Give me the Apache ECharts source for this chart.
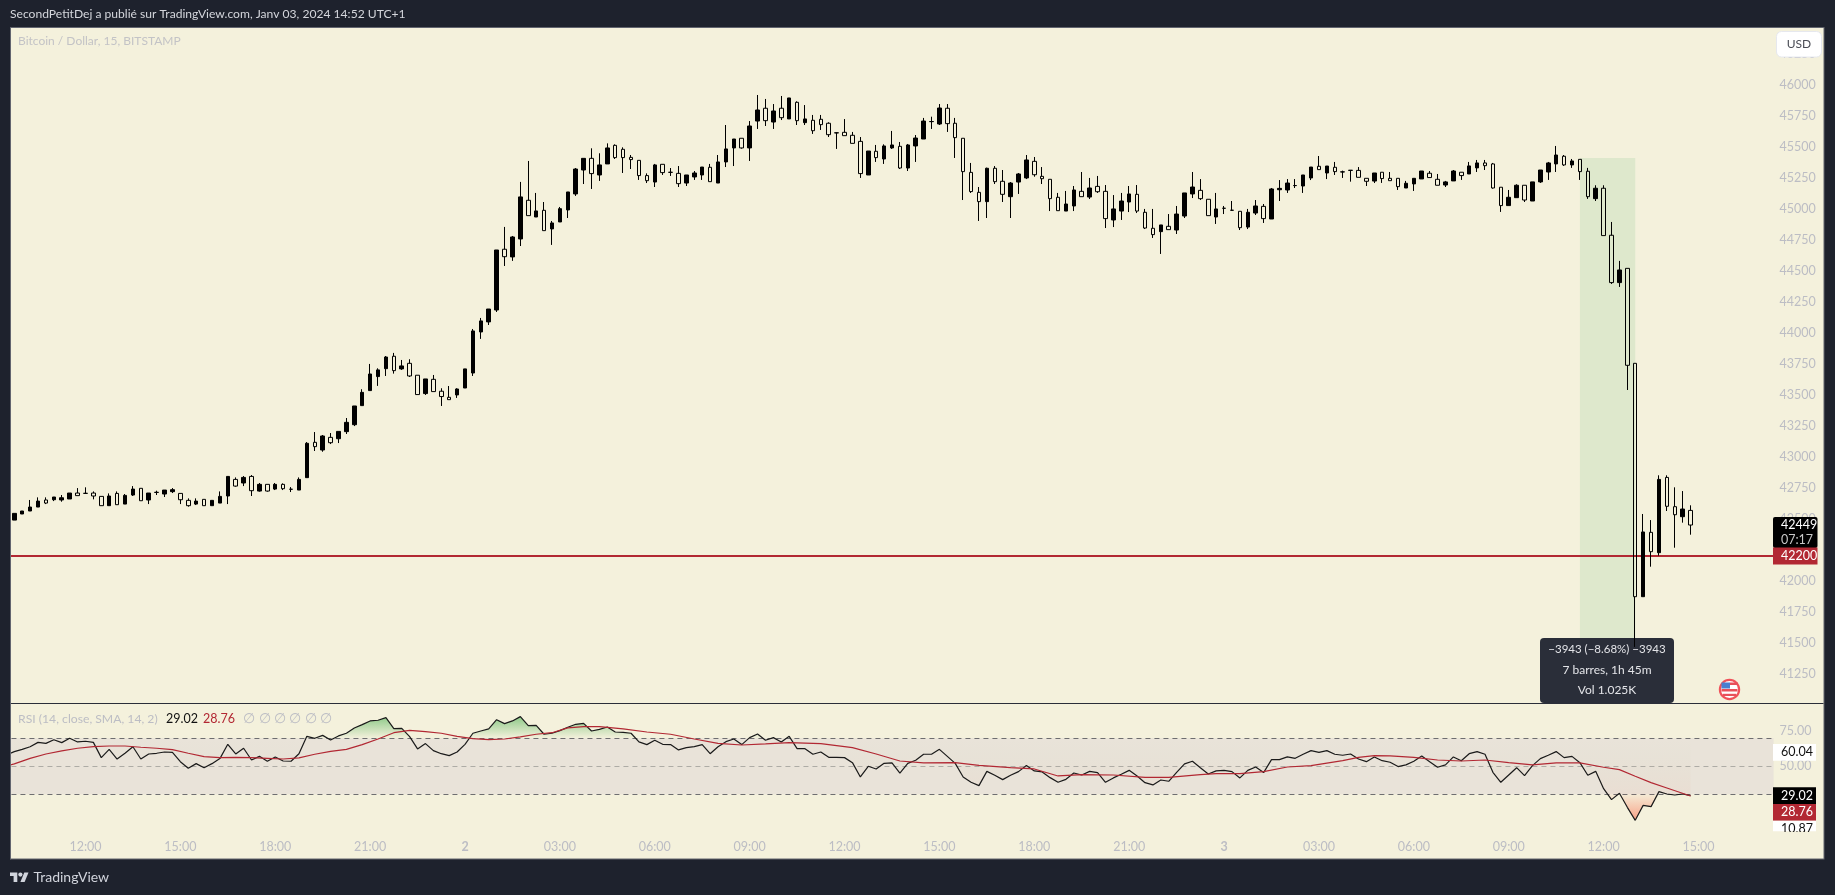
<!DOCTYPE html>
<html>
<head>
<meta charset="utf-8">
<title>Bitcoin / Dollar</title>
<script src="https://cdn.jsdelivr.net/npm/echarts@6/dist/echarts.min.js"></script>
<style>
  html, body { margin: 0; padding: 0; background: #1e222d; }
  #chart { width: 1835px; height: 895px; }
</style>
</head>
<body>
<div id="chart"></div>
<script>
// candles, 15 minute bars from 1 Jan 09:45 to 3 Jan 14:45
const opens = [
  42489,42538,42562,42594,42651,42653,42651,42659,42707,42705,
  42707,42680,42605,42704,42618,42691,42745,42651,42712,42699,
  42718,42704,42648,42618,42656,42605,42626,42683,42817,42788,
  42841,42723,42777,42739,42777,42737,42731,42831,43116,43054,
  43156,43145,43202,43258,43412,43533,43646,43710,43810,43708,
  43753,43657,43509,43624,43528,43479,43498,43554,43675,44006,
  44087,44183,44673,44611,44756,45068,44933,44987,44837,44893,
  44990,45119,45312,45406,45272,45361,45511,45479,45414,45390,
  45267,45215,45358,45293,45285,45207,45256,45272,45334,45207,
  45377,45490,45568,45490,45707,45810,45699,45810,45724,45858,
  45694,45713,45721,45689,45611,45616,45592,45543,45272,45463,
  45401,45490,45503,45328,45506,45562,45702,45683,45810,45689,
  45568,45293,45132,45057,45326,45221,45097,45215,45248,45382,
  45261,45237,45092,44981,45022,45140,45094,45180,45140,44909,
  44981,45054,45116,44971,44842,44815,44858,44828,44941,45119,
  45148,45076,44933,45003,44987,44979,44852,44965,45019,44917,
  45153,45151,45186,45183,45248,45342,45288,45334,45296,45309,
  45309,45245,45223,45294,45245,45245,45167,45200,45240,45286,
  45237,45191,45224,45294,45280,45329,45369,45361,45173,45025,
  45089,45189,45062,45216,45296,45361,45423,45353,45398,45302,
  45081,45165,44786,44404,44519,43753,41871,42390,42226,42833,
  42597,42516,42567
];
const closes = [
  42543,42562,42594,42642,42626,42675,42669,42707,42686,42704,
  42683,42605,42683,42613,42688,42739,42645,42707,42713,42731,
  42734,42653,42605,42642,42605,42648,42680,42841,42763,42833,
  42726,42777,42723,42777,42742,42738,42817,43108,43081,43167,
  43113,43204,43277,43409,43519,43667,43700,43804,43694,43732,
  43651,43501,43627,43525,43485,43460,43546,43708,44014,44095,
  44191,44667,44613,44772,45095,44944,44982,44823,44885,45000,
  45135,45320,45406,45283,45353,45490,45412,45412,45396,45267,
  45226,45353,45291,45294,45202,45272,45288,45336,45218,45377,
  45482,45562,45490,45667,45796,45710,45788,45734,45893,45710,
  45724,45629,45678,45597,45612,45589,45527,45283,45465,45412,
  45506,45514,45328,45514,45570,45707,45703,45812,45686,45573,
  45299,45138,45057,45326,45218,45116,45207,45280,45393,45274,
  45242,45081,44984,45038,45151,45097,45167,45137,44920,44998,
  45062,45119,44981,44844,44791,44869,44831,44957,45127,45175,
  45081,44944,44998,45004,44988,44847,44971,45022,44920,45159,
  45164,45207,45187,45272,45336,45315,45344,45299,45297,45310,
  45253,45221,45288,45243,45226,45178,45205,45245,45304,45251,
  45189,45216,45304,45267,45345,45369,45347,45167,45025,45092,
  45189,45070,45216,45312,45369,45433,45353,45385,45299,45097,
  45165,44783,44404,44506,43737,41871,42393,42234,42817,42600,
  42532,42578,42449
];
const lows = [
  42489,42538,42562,42594,42618,42642,42637,42659,42686,42702,
  42656,42605,42605,42613,42618,42683,42645,42618,42691,42675,
  42707,42618,42597,42610,42605,42605,42626,42618,42758,42763,
  42683,42718,42718,42731,42731,42715,42731,42831,43046,43040,
  43102,43110,43183,43247,43412,43533,43571,43651,43670,43700,
  43643,43501,43498,43525,43409,43460,43474,43554,43651,43950,
  44062,44167,44538,44579,44699,44944,44933,44823,44708,44893,
  44925,45103,45199,45159,45224,45361,45401,45288,45320,45232,
  45207,45175,45272,45264,45175,45183,45232,45232,45218,45207,
  45336,45344,45484,45385,45643,45667,45643,45715,45724,45675,
  45675,45603,45635,45578,45482,45589,45527,45248,45272,45377,
  45361,45482,45320,45304,45377,45562,45643,45675,45619,45409,
  45070,45127,44901,44925,45199,45054,44925,45119,45239,45258,
  45199,44981,44984,44981,44981,45097,45078,45127,44844,44852,
  44909,44973,44965,44836,44764,44635,44831,44796,44925,45086,
  45070,44944,44877,44957,44985,44828,44836,44949,44885,44917,
  45062,45127,45167,45127,45231,45315,45239,45272,45248,45218,
  45253,45183,45207,45208,45226,45151,45167,45143,45240,45251,
  45189,45175,45224,45232,45280,45296,45312,45162,44974,45025,
  45089,45054,45062,45208,45232,45296,45345,45329,45232,45079,
  45062,44783,44393,44369,43538,41466,41871,42113,42202,42562,
  42266,42468,42371
];
const highs = [
  42543,42562,42651,42672,42672,42675,42691,42707,42747,42753,
  42720,42680,42704,42720,42699,42763,42745,42707,42726,42731,
  42747,42704,42664,42664,42656,42648,42720,42841,42833,42844,
  42852,42788,42777,42788,42785,42755,42833,43118,43199,43175,
  43191,43204,43312,43409,43544,43748,43713,43812,43837,43780,
  43786,43657,43627,43659,43552,43570,43552,43708,44030,44119,
  44191,44667,44853,44780,45216,45385,45127,45054,44901,45014,
  45135,45328,45406,45487,45447,45527,45519,45495,45433,45390,
  45285,45361,45358,45328,45344,45272,45304,45336,45361,45433,
  45675,45562,45568,45707,45917,45885,45844,45909,45893,45866,
  45836,45756,45756,45697,45616,45723,45619,45578,45465,45514,
  45519,45627,45538,45522,45594,45732,45742,45844,45844,45732,
  45568,45369,45175,45331,45344,45312,45215,45288,45433,45417,
  45336,45237,45127,45143,45183,45296,45248,45264,45191,45110,
  45127,45183,45191,44998,44998,44869,44957,45022,45127,45296,
  45239,45076,45127,45022,45062,44979,44998,45070,45038,45167,
  45231,45239,45239,45272,45336,45425,45344,45377,45307,45312,
  45336,45245,45288,45294,45296,45245,45224,45245,45304,45304,
  45280,45224,45312,45294,45377,45393,45393,45369,45173,45151,
  45197,45189,45216,45312,45377,45506,45433,45401,45398,45329,
  45189,45189,44893,44579,44519,43753,42538,42489,42850,42850,
  42753,42723,42608
];

// rsi has one more point on the left, the bar before the first candle, cut by the frame
const rsi = [
  58.1,
  60.5,62.1,64.0,67.1,66.4,69.0,66.9,70.0,67.4,67.9,
  67.1,56.2,62.1,55.2,59.3,64.0,55.2,58.8,59.3,60.2,
  60.0,53.3,48.6,51.9,49.0,51.9,55.5,65.7,58.8,62.9,
  54.5,57.1,53.6,56.7,53.8,53.6,59.0,71.4,70.0,72.1,
  68.8,71.7,73.6,77.4,79.8,82.4,82.9,84.8,76.9,77.1,
  71.2,62.4,66.2,61.2,59.0,57.6,60.2,65.7,73.6,75.2,
  76.7,83.3,80.5,82.4,85.5,79.0,79.3,72.9,73.6,75.5,
  77.9,80.0,80.7,75.2,76.4,78.1,74.5,74.3,73.6,67.4,
  65.5,68.6,65.7,65.5,61.7,63.3,64.0,65.5,59.0,64.0,
  67.6,69.5,65.5,70.5,73.1,68.6,70.5,67.4,71.4,62.6,
  62.6,58.6,60.2,56.4,56.4,56.2,52.6,42.4,50.0,48.1,
  52.1,52.4,45.2,52.1,54.3,58.6,58.6,62.1,57.1,52.1,
  42.4,38.6,36.2,46.4,43.6,40.5,43.6,46.2,50.5,46.7,
  46.0,41.9,38.6,40.7,45.2,43.8,46.4,45.5,38.6,41.7,
  44.3,47.1,43.1,38.3,36.7,40.2,39.3,45.7,51.7,53.6,
  49.0,44.5,46.7,47.1,46.2,41.7,47.1,49.5,45.5,54.8,
  54.8,56.7,55.7,58.6,61.2,60.0,61.2,58.6,57.9,58.8,
  55.2,53.3,56.7,54.0,52.9,49.8,51.0,53.6,57.4,53.3,
  49.3,51.0,56.7,54.0,59.0,60.5,58.6,45.7,38.6,43.8,
  49.0,43.3,50.5,55.5,57.9,60.5,56.2,57.1,52.6,43.6,
  46.4,34.0,26.2,30.7,20.7,11.4,22.1,21.2,31.9,30.2,
  29.5,30.2,29.02
];

// the moving average is a smooth curve, so it is read at these bars only (-1 is the cut bar)
const rsiMaBars = [
  -1,0,2,4,6,8,10,12,14,16,18,20,22,24,26,28,30,32,34,36,38,40,42,44,46,48,50,
  52,54,56,58,60,62,64,66,68,70,72,74,77,80,83,86,89,92,95,98,102,106,109,112,
  115,119,122,126,129,132,135,139,143,146,150,152,155,158,161,164,168,170,172,
  174,177,180,183,186,189,192,195,198,201,203,205,207,209,212
];
const rsiMaValues = [
  50.2,51.7,55.7,58.8,61.0,62.9,64.0,64.5,64.5,63.6,62.9,61.9,59.3,56.9,56.2,56.4,56.2,
  55.7,55.2,56.0,58.6,60.7,62.1,65.5,69.5,74.0,75.7,74.8,73.6,71.4,69.8,69.0,69.5,
  71.0,72.9,74.0,77.4,78.3,78.3,76.7,74.5,72.9,69.5,66.4,65.2,66.0,66.9,66.2,63.3,
  58.8,53.8,52.4,52.6,50.7,49.0,48.1,43.1,44.0,43.8,42.1,42.1,44.0,44.8,44.8,46.2,
  49.5,50.5,54.0,56.4,57.6,57.4,56.4,54.5,53.8,54.5,52.6,51.0,52.4,52.4,49.3,47.6,
  42.9,38.3,34.5,28.76
];

const rsiChips = [60.04, 29.02, 28.76, 10.87];
const lastPrice = 42449;
const levelPrice = 42200;
const moveTop = 45409;
const moveBottom = 41466;
const moveFirstBar = 198;
const moveLastBar = 205;
const blankBars = 10;

const FONT = 'Lato, "Noto Sans", sans-serif';
const TICK_COLOR = '#bcbdc4';
const RED = '#b22833';
const PANE = '#f4f1dc';
const DARK = '#1e222d';
const EDGE = '#62656f';

// categories start one bar before the first candle
const categories = [];
for (let i = 0; i < opens.length + 1 + blankBars; i++) {
  const d = new Date(2024, 0, 1, 9, 30 + i * 15);
  const hh = String(d.getHours()).padStart(2, '0');
  const mm = String(d.getMinutes()).padStart(2, '0');
  categories.push(d.getDate() + ' ' + hh + ':' + mm);
}
const candles = opens.map((o, i) => [i + 1, o, closes[i], lows[i], highs[i]]);
const rsiMa = rsiMaBars.map((b, i) => [b + 1, rsiMaValues[i]]);

const BAR = 7.907;
const gridLeft = 10.35 - BAR;
const gridWidth = categories.length * BAR;
// price: 0.124 px per dollar, rsi: 1.4 px per point
const priceGrid = { left: gridLeft, width: gridWidth, top: 22.7, height: 682 };
const rsiGrid = { left: gridLeft, width: gridWidth, top: 696.3, height: 140 };
const rsiPx = v => rsiGrid.top + (100 - v) / 100 * rsiGrid.height;

// one vertical gradient for the whole pane: only what leaves the 30-70 band shows
const gradTop = rsiPx(86);
const gradBottom = rsiPx(10);
const stopAt = v => (rsiPx(v) - gradTop) / (gradBottom - gradTop);
const bandFill = new echarts.graphic.LinearGradient(0, gradTop, 0, gradBottom, [
  { offset: 0, color: 'rgba(112,190,112,0.8)' },
  { offset: stopAt(70), color: 'rgba(112,190,112,0)' },
  { offset: stopAt(30), color: 'rgba(250,120,90,0.05)' },
  { offset: 1, color: 'rgba(250,120,90,0.7)' },
], true);

function tickText(value) {
  const hhmm = value.split(' ')[1];
  const [hh, mm] = hhmm.split(':');
  if (mm !== '00' || Number(hh) % 3 !== 0) return '';
  return hh === '00' ? '{day|' + value.split(' ')[0] + '}' : hhmm;
}

const chart = echarts.init(document.getElementById('chart'));
chart.setOption({
  animation: false,
  backgroundColor: DARK,
  textStyle: { fontFamily: FONT },
  grid: [priceGrid, rsiGrid],
  xAxis: [
    { type: 'category', gridIndex: 0, data: categories, show: false },
    {
      type: 'category',
      gridIndex: 1,
      data: categories,
      axisLine: { show: false },
      axisTick: { show: false },
      splitLine: { show: false },
      axisLabel: {
        color: TICK_COLOR,
        fontSize: 12.5,
        fontFamily: FONT,
        margin: 4,
        interval: (i, value) => tickText(value) !== '',
        formatter: value => tickText(value),
        rich: { day: { color: TICK_COLOR, fontSize: 12.5, fontWeight: 'bold', fontFamily: FONT } },
      },
    },
  ],
  yAxis: [
    {
      type: 'value',
      gridIndex: 0,
      position: 'right',
      min: 41000,
      max: 46500,
      interval: 250,
      axisLine: { show: false },
      axisTick: { show: false },
      splitLine: { show: false },
      axisLabel: {
        color: TICK_COLOR,
        fontSize: 12.5,
        fontFamily: FONT,
        margin: 6,
        formatter: v => (v === 41000 || v === 46500 ? '' : String(v)),
      },
    },
    {
      type: 'value',
      gridIndex: 1,
      position: 'right',
      min: 0,
      max: 100,
      interval: 25,
      axisLine: { show: false },
      axisTick: { show: false },
      splitLine: { show: false },
      axisLabel: {
        color: TICK_COLOR,
        fontSize: 12.5,
        fontFamily: FONT,
        margin: 6,
        formatter: v => (v === 0 || v === 100 ? '' : v.toFixed(2)),
      },
    },
  ],
  series: [
    {
      type: 'candlestick',
      xAxisIndex: 0,
      yAxisIndex: 0,
      z: 2,
      barWidth: 4,
      data: candles,
      encode: { x: 0, y: [1, 2, 3, 4] },
      itemStyle: {
        color: '#000000',
        color0: 'transparent',
        borderColor: '#000000',
        borderColor0: '#000000',
        borderWidth: 1,
      },
      markLine: {
        z: 1,
        silent: true,
        symbol: 'none',
        label: { show: false },
        lineStyle: { color: RED, width: 2, type: 'solid' },
        data: [{ yAxis: levelPrice }],
      },
      markArea: {
        z: 1,
        silent: true,
        itemStyle: { color: '#dee8cc' },
        data: [[
          { xAxis: moveFirstBar + 1, yAxis: moveTop },
          { xAxis: moveLastBar + 1, yAxis: moveBottom },
        ]],
      },
    },
    {
      type: 'line',
      name: 'RSI',
      xAxisIndex: 1,
      yAxisIndex: 1,
      z: 3,
      data: rsi,
      showSymbol: false,
      lineStyle: { color: '#1a1a1a', width: 1.2 },
      areaStyle: { origin: 70, color: bandFill, opacity: 1 },
      markArea: {
        z: 1,
        silent: true,
        itemStyle: { color: '#e9e3d9' },
        data: [[{ yAxis: 70 }, { yAxis: 30 }]],
      },
      markLine: {
        z: 2,
        silent: true,
        symbol: 'none',
        label: { show: false },
        data: [
          { yAxis: 70, lineStyle: { color: '#6e6e70', width: 1, type: [5, 4] } },
          { yAxis: 50, lineStyle: { color: '#aeaca6', width: 1, type: [5, 4] } },
          { yAxis: 30, lineStyle: { color: '#6e6e70', width: 1, type: [5, 4] } },
        ],
      },
    },
    {
      type: 'line',
      name: 'RSI MA',
      xAxisIndex: 1,
      yAxisIndex: 1,
      z: 4,
      data: rsiMa,
      showSymbol: false,
      lineStyle: { color: RED, width: 1.2 },
    },
  ],
});

// page furniture and value chips, chips follow the axes
const priceY = v => chart.convertToPixel({ yAxisIndex: 0 }, v);
const rsiY = v => chart.convertToPixel({ yAxisIndex: 1 }, v);

function box(x, y, w, h, fill, z, r) {
  return { type: 'rect', silent: true, z, shape: { x, y, width: w, height: h, r: r || 0 }, style: { fill } };
}
function label(x, y, text, fill, size, z, align, weight) {
  return {
    type: 'text',
    silent: true,
    z,
    style: {
      x, y, text, fill,
      font: (weight || 'normal') + ' ' + size + 'px ' + FONT,
      textAlign: align || 'left',
      textVerticalAlign: 'middle',
    },
  };
}
function poly(points, fill, z) {
  return { type: 'polygon', silent: true, z, shape: { points }, style: { fill } };
}

const chipLeft = 1773;
const chipWidth = 44.5;
const rowHeight = 16.7;
const BRAND = '#d1d4dc';
const furniture = [
  box(10, 27, 1814.5, 832.5, EDGE, -3),
  box(11, 28, 1812.5, 830.5, PANE, -2),
  box(11, 703, 1812.5, 1, '#2a2e39', -1),
  // left of the frame hides the cut bar
  box(0, 27, 10, 833, DARK, 20),
  box(10, 27, 1, 832.5, EDGE, 20),

  label(10, 14.5, 'SecondPetitDej a publié sur TradingView.com, Janv 03, 2024 14:52 UTC+1', '#d4d6dc', 12.1, 5),
  label(18, 41.5, 'Bitcoin / Dollar, 15, BITSTAMP', '#c3c3c6', 12, 5),

  // measuring tool
  box(1540, 638, 134, 65, '#2a2e39', 1, 4),
  label(1607, 649.7, '−3943 (−8.68%) −3943', '#e3e4e8', 11.5, 5, 'center'),
  label(1607, 670, '7 barres, 1h 45m', '#e3e4e8', 12, 5, 'center'),
  label(1607, 690, 'Vol 1.025K', '#e3e4e8', 12, 5, 'center'),

  // rsi legend
  label(18, 719, 'RSI (14, close, SMA, 14, 2)', '#bcbdc4', 12.2, 5),
  label(166, 719, rsi[rsi.length - 1].toFixed(2), '#111111', 12.5, 5),
  label(203, 719, rsiMaValues[rsiMaValues.length - 1].toFixed(2), RED, 12.5, 5),
].concat(
  [243, 259, 274, 289, 305, 320].map(x => label(x, 719, '∅', '#bcbdc4', 13.5, 5)),
  [
    // last price chip and level chip
    box(chipLeft, 517, chipWidth, 31, '#000000', 10, 2),
    label(1781, priceY(lastPrice), String(lastPrice), '#ffffff', 12.5, 11),
    label(1781, 539.5, '07:17', '#c8c8c8', 12.5, 11),
    box(chipLeft, priceY(levelPrice) - 8.5, chipWidth, 17, RED, 10),
    label(1781, priceY(levelPrice), String(levelPrice), '#ffffff', 12.5, 11),

    // rsi chips
    box(chipLeft, rsiY(rsiChips[0]) - 8.3, 43, rowHeight, '#ffffff', 10),
    label(1781, rsiY(rsiChips[0]), rsiChips[0].toFixed(2), '#111111', 12.5, 11),
    box(chipLeft, rsiY(rsiChips[1]) - 8.3, 43, rowHeight, '#000000', 10),
    label(1781, rsiY(rsiChips[1]), rsiChips[1].toFixed(2), '#ffffff', 12.5, 11),
    box(chipLeft, rsiY(rsiChips[1]) + 8.4, 43, rowHeight, RED, 10),
    label(1781, rsiY(rsiChips[1]) + rowHeight, rsiChips[2].toFixed(2), '#ffffff', 12.5, 11),
    box(chipLeft, rsiY(rsiChips[1]) + 8.4 + rowHeight, 43, 10.5, '#ffffff', 10),
    label(1781, rsiY(rsiChips[1]) + rowHeight * 2, rsiChips[3].toFixed(2), '#111111', 12.5, 11),
    box(chipLeft, 832, 43, 8, PANE, 12),

    // USD button
    {
      type: 'rect',
      silent: true,
      z: 10,
      shape: { x: 1776.5, y: 31.5, width: 45, height: 25.5, r: 5 },
      style: { fill: '#ffffff', stroke: '#e6e8ee', lineWidth: 1 },
    },
    label(1799, 44, 'USD', '#4a4c55', 12, 11, 'center'),

    // economic calendar flag
    { type: 'circle', silent: true, z: 5, shape: { cx: 1729.5, cy: 689.5, r: 9.6 }, style: { fill: '#ffffff', stroke: '#f0525a', lineWidth: 2.2 } },
    box(1730, 682.5, 8, 2.5, '#e8505a', 6),
    box(1721.5, 689, 16, 2.5, '#e8505a', 6),
    box(1723, 693.8, 13, 2.2, '#e8505a', 6),
    box(1721.5, 682.5, 8.5, 6, '#4a7fd0', 7),

    // brand
    poly([[17.3, 881.9], [13.6, 881.9], [13.6, 876.1], [10, 876.1], [10, 872.5], [17.3, 872.5]], BRAND, 5),
    poly([[24.6, 881.9], [20.4, 881.9], [24.3, 872.5], [28.5, 872.5]], BRAND, 5),
    { type: 'circle', silent: true, z: 5, shape: { cx: 20.4, cy: 874.6, r: 2.1 }, style: { fill: BRAND } },
    label(33.5, 877.5, 'TradingView', BRAND, 14, 5),
  ]
);
chart.setOption({ graphic: furniture });
</script>
</body>
</html>
